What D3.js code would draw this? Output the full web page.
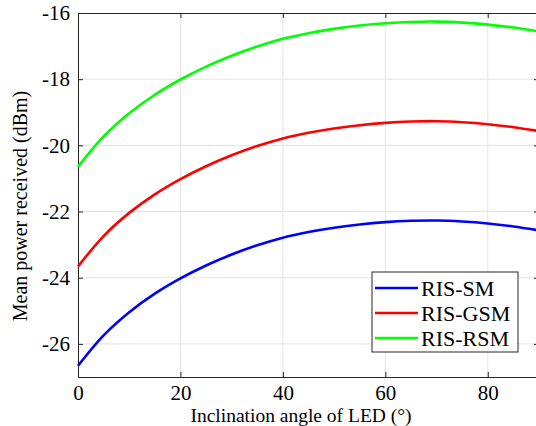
<!DOCTYPE html>
<html lang="en">
<head>
  <meta charset="UTF-8">
  <title>Mean power received vs inclination angle</title>
  <script src="https://d3js.org/d3.v7.min.js"></script>
  <style>
    body { margin: 0; background: #fff; }
    svg text { font-family: "Liberation Serif", serif; fill: #000; }
    .grid line { stroke: #e3e3e3; stroke-width: 1; }
  </style>
</head>
<body>
  <div id="chart"></div>
  <script>
    // inclination angle of LED (deg)
    const angles = [0, 5, 10, 15, 20, 25, 30, 35, 40, 45, 50, 55, 60, 65, 70, 75, 80, 85, 90];
    // mean power received (dBm)
    const rsm = [-20.65, -19.73, -19.03, -18.47, -18.01, -17.62, -17.29, -17.01, -16.78, -16.61, -16.48, -16.38, -16.31, -16.27, -16.26, -16.29, -16.35, -16.44, -16.56];
    const gsm = [-23.66, -22.74, -22.04, -21.48, -21.02, -20.63, -20.3, -20.02, -19.79, -19.62, -19.49, -19.39, -19.32, -19.28, -19.27, -19.3, -19.36, -19.45, -19.57];
    const sm  = [-26.66, -25.74, -25.04, -24.48, -24.02, -23.63, -23.3, -23.02, -22.79, -22.62, -22.49, -22.39, -22.32, -22.28, -22.27, -22.3, -22.36, -22.45, -22.57];
    const seriesNames = ["RIS-SM", "RIS-GSM", "RIS-RSM"];
    const seriesColors = ["#0000ff", "#ff0000", "#00ff00"];
    const xTicks = [0, 20, 40, 60, 80];
    const yTicks = [-26, -24, -22, -20, -18, -16];

    const width = 536, height = 426;
    const margin = {top: 13, right: -3, bottom: 49, left: 78};

    const svg = d3.select("#chart").append("svg")
      .attr("width", width)
      .attr("height", height);

    const x = d3.scaleLinear()
      .domain([0, 90])
      .range([margin.left, width - margin.right]);

    const y = d3.scaleLinear()
      .domain([-27, -16])
      .range([height - margin.bottom, margin.top]);

    // grid
    svg.append("g")
      .attr("class", "grid")
      .selectAll("line")
      .data(xTicks.slice(1))
      .join("line")
        .attr("x1", d => x(d)).attr("x2", d => x(d))
        .attr("y1", y(-27)).attr("y2", y(-16));
    svg.append("g")
      .attr("class", "grid")
      .selectAll("line")
      .data(yTicks.slice(0, -1))
      .join("line")
        .attr("x1", x(0)).attr("x2", x(90))
        .attr("y1", d => y(d)).attr("y2", d => y(d));

    const axisColor = "#262626";

    // axes (MATLAB style: inward ticks, box)
    const gx = svg.append("g")
      .attr("transform", `translate(0,${y(-27)})`)
      .call(d3.axisBottom(x).tickValues(xTicks).tickSize(-5).tickPadding(8.5));
    const gxTop = svg.append("g")
      .attr("transform", `translate(0,${y(-16)})`)
      .call(d3.axisTop(x).tickValues(xTicks).tickSize(-5).tickFormat(""));
    const gy = svg.append("g")
      .attr("transform", `translate(${x(0)},0)`)
      .call(d3.axisLeft(y).tickValues(yTicks).tickSize(-5).tickPadding(8));
    const gyRight = svg.append("g")
      .attr("transform", `translate(${x(90)},0)`)
      .call(d3.axisRight(y).tickValues(yTicks).tickSize(-5).tickFormat(""));

    [gx, gxTop, gy, gyRight].forEach(g => {
      g.attr("font-family", null).attr("font-size", null);
      g.selectAll(".domain").attr("stroke", axisColor).attr("stroke-width", 1);
      g.selectAll(".tick line").attr("stroke", axisColor);
      g.selectAll(".tick text")
        .attr("fill", "#000")
        .style("font-family", "Liberation Serif")
        .style("font-size", "21px");
    });
    gy.selectAll(".tick text").text(d => String(d).replace("−", "-"));

    // curves
    const allSeries = [sm, gsm, rsm];
    const line = d3.line()
      .x((d, i) => x(angles[i]))
      .y(d => y(d))
      .curve(d3.curveCatmullRom);

    svg.append("g")
      .selectAll("path")
      .data(allSeries)
      .join("path")
        .attr("d", d => line(d))
        .attr("fill", "none")
        .attr("stroke", (d, i) => seriesColors[i])
        .attr("stroke-width", 2.6);

    // axis labels
    svg.append("text")
      .attr("x", 301)
      .attr("y", 421.5)
      .attr("text-anchor", "middle")
      .style("font-size", "19.5px")
      .text("Inclination angle of LED (°)");

    svg.append("text")
      .attr("transform", `translate(27,206) rotate(-90)`)
      .attr("text-anchor", "middle")
      .style("font-size", "20px")
      .text("Mean power received (dBm)");

    // legend
    const legend = svg.append("g").attr("transform", "translate(372,272)");
    legend.append("rect")
      .attr("width", 146).attr("height", 80)
      .attr("fill", "#fff")
      .attr("stroke", axisColor)
      .attr("stroke-width", 1);
    seriesNames.forEach((name, i) => {
      const cy = 16 + i * 25;
      legend.append("line")
        .attr("x1", 3).attr("x2", 46)
        .attr("y1", cy).attr("y2", cy)
        .attr("stroke", seriesColors[i])
        .attr("stroke-width", 2.6);
      legend.append("text")
        .attr("x", 49).attr("y", cy)
        .attr("dy", "0.35em")
        .style("font-size", "22px")
        .text(name);
    });
  </script>
</body>
</html>
